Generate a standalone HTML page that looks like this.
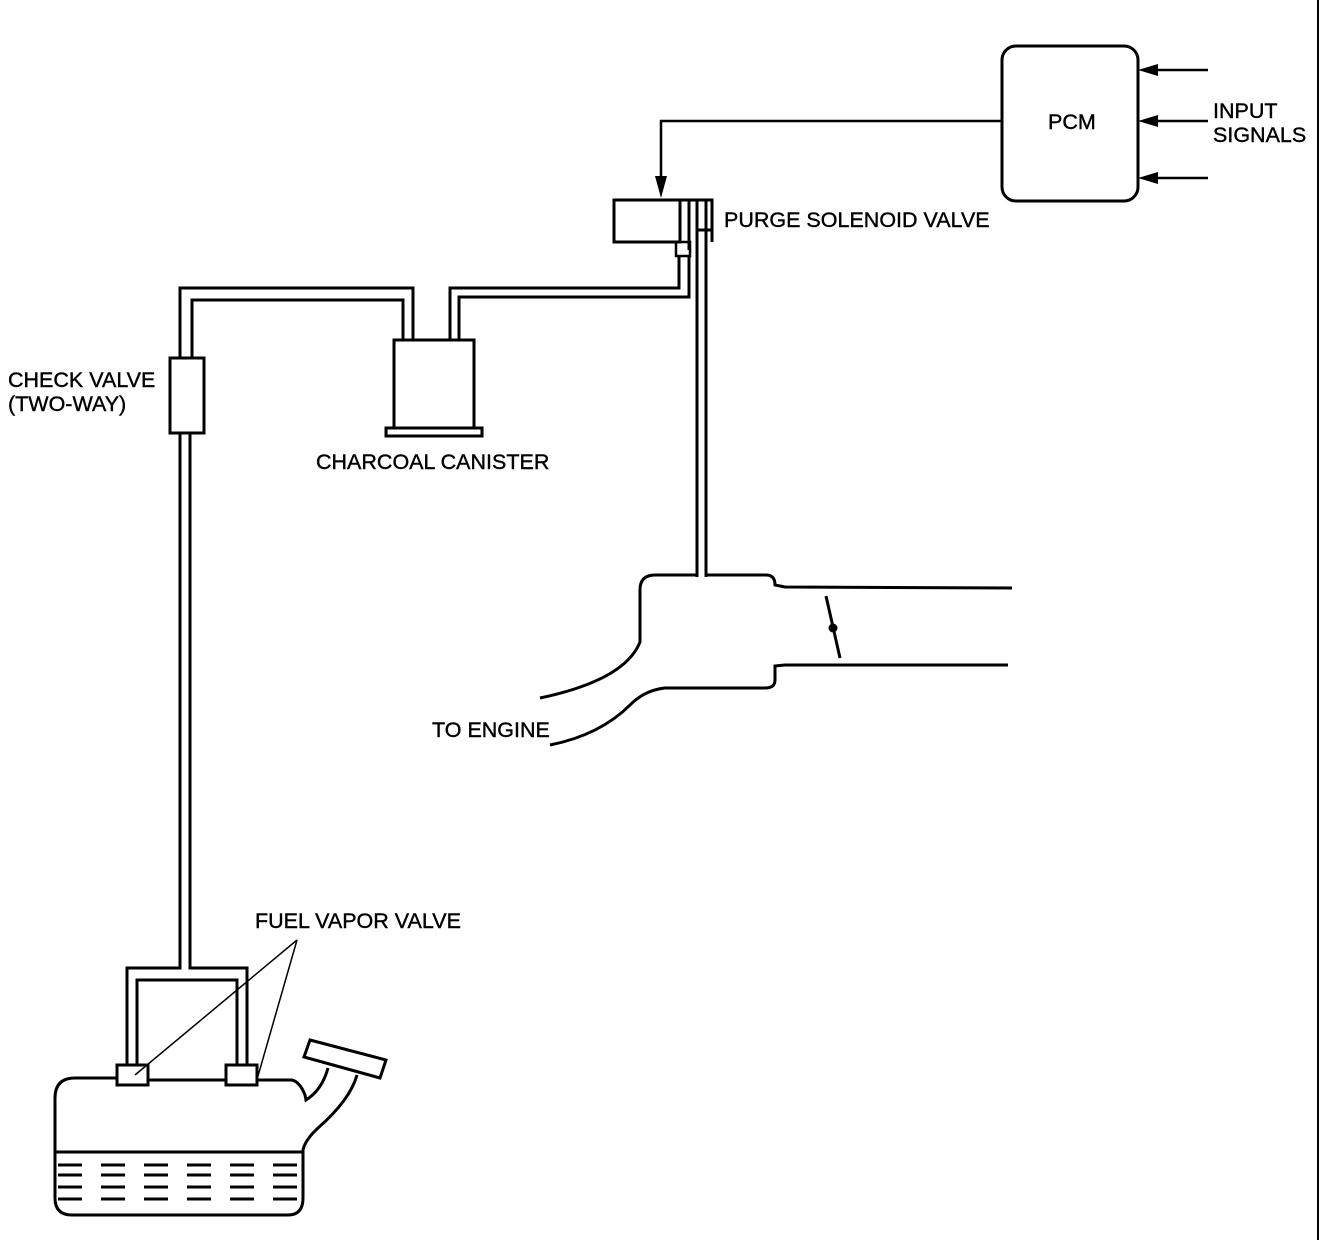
<!DOCTYPE html>
<html><head><meta charset="utf-8"><style>body{margin:0;background:#fff}svg{display:block}text{font-family:"Liberation Sans",sans-serif;font-size:21.5px;fill:#000;stroke:#000;stroke-width:0.4}</style></head>
<body>
<svg width="1344" height="1240" viewBox="0 0 1344 1240" xmlns="http://www.w3.org/2000/svg" fill="none" stroke="#000" stroke-width="3">
<line x1="1318" y1="0" x2="1318" y2="1240" stroke-width="2"/>
<rect x="1002" y="46" width="136" height="155" rx="14"/>
<text x="1048" y="129">PCM</text>
<text x="1213" y="118">INPUT</text>
<text x="1213" y="142">SIGNALS</text>
<g stroke-width="2.5">
<line x1="1208" y1="70" x2="1150" y2="70"/><line x1="1208" y1="121" x2="1150" y2="121"/><line x1="1208" y1="178" x2="1150" y2="178"/>
</g>
<g fill="#000" stroke="none">
<polygon points="1138,70 1158,64 1158,76"/><polygon points="1138,121 1158,115 1158,127"/><polygon points="1138,178 1158,172 1158,184"/>
<polygon points="661,198 655,176 667,176"/>
</g>
<polyline points="1002,121 661,121 661,180" stroke-width="2.5"/>
<rect x="614" y="200" width="66" height="42"/>
<polyline points="680,200 712,200 712,242"/>
<line x1="689" y1="200" x2="689" y2="250"/>
<line x1="697" y1="200" x2="697" y2="230"/>
<line x1="706" y1="200" x2="706" y2="230"/>
<line x1="697" y1="230" x2="712" y2="230"/>
<rect x="676" y="242" width="14" height="14" stroke-width="2.5"/>
<polyline points="679,256 679,288 450,288 450,340"/>
<polyline points="689,256 689,297 459,297 459,340"/>
<line x1="697" y1="230" x2="697" y2="577"/>
<line x1="706" y1="230" x2="706" y2="577"/>
<text x="724" y="227">PURGE  SOLENOID VALVE</text>
<polyline points="180,358 180,288 413,288 413,340"/>
<polyline points="192,358 192,300 403,300 403,340"/>
<rect x="170" y="358" width="34" height="75"/>
<text x="8" y="387">CHECK VALVE</text>
<text x="8" y="411">(TWO-WAY)</text>
<rect x="394" y="340" width="80" height="88"/>
<rect x="386" y="428" width="96" height="8"/>
<text x="316" y="469">CHARCOAL CANISTER</text>
<polyline points="180,433 180,968 127,968 127,1066"/>
<polyline points="190,433 190,968 247,968 247,1066"/>
<polyline points="137,1066 137,980 237,980 237,1066"/>
<rect x="117" y="1065" width="31" height="20"/>
<rect x="226" y="1065" width="31" height="20"/>
<text x="255" y="928">FUEL VAPOR VALVE</text>
<g stroke-width="1.5"><line x1="297" y1="940" x2="135" y2="1075"/><line x1="297" y1="940" x2="258" y2="1076"/></g>
<path d="M117,1078 L75,1078 Q55,1078 55,1098 L55,1198 Q55,1215 72,1215 L288,1215 Q303,1215 303,1198 L303,1150 Q305,1140 318,1128 Q350,1100 357,1075"/>
<path d="M148,1080 L226,1080"/>
<path d="M257,1080 L292,1080 Q300,1082 305,1095 L306,1100 Q322,1090 328,1068"/>
<polygon points="310,1040 386,1060 380,1078 304,1057"/>
<line x1="55" y1="1152" x2="303" y2="1152"/>
<g stroke-width="3" stroke-dasharray="24,19">
<line x1="58" y1="1165" x2="300" y2="1165"/><line x1="58" y1="1175" x2="300" y2="1175"/><line x1="58" y1="1187" x2="300" y2="1187"/><line x1="58" y1="1199" x2="300" y2="1199"/>
</g>
<path d="M697,575 L655,575 Q640,575 640,590 L640,642 Q625,680 540,698"/>
<path d="M706,575 L766,575 Q775,575 775,585 L785,587 L1012,588"/>
<path d="M1008,665 L785,665 L775,666 L775,680 Q775,688 765,688 L665,688 Q645,690 630,705 Q600,735 550,745"/>
<line x1="826" y1="596" x2="840" y2="658"/>
<circle cx="833" cy="628" r="3" fill="#000"/>
<text x="432" y="737">TO ENGINE</text>
</svg>
</body></html>
